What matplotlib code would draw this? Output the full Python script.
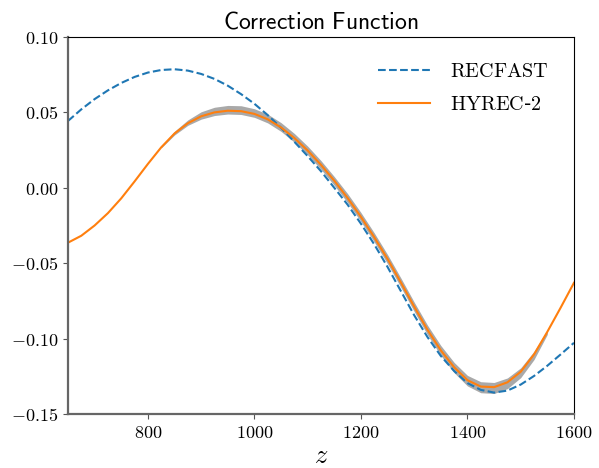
#!/usr/bin/env python

import numpy as np
import matplotlib
matplotlib.use('Agg')
import matplotlib.pyplot as plt
from matplotlib.ticker import FuncFormatter

plt.rcParams['mathtext.fontset'] = 'cm'

# redshift grid (step 25)
z = np.arange(650, 1601, 25)

# RECFAST correction function
recfast = [0.0443, 0.0520, 0.0588, 0.0646, 0.0695, 0.0735, 0.0764, 0.0781,
           0.0786, 0.0777, 0.0755, 0.0722, 0.0677, 0.0621, 0.0557, 0.0482,
           0.0398, 0.0305, 0.0210, 0.0110, 0.0000, -0.0112, -0.0238, -0.0375,
           -0.0525, -0.0685, -0.0845, -0.0990, -0.1115, -0.1215, -0.1295,
           -0.1340, -0.1358, -0.1345, -0.1305, -0.1248, -0.1180, -0.1105,
           -0.1028]

# HYREC-2 correction function
hyrec = [-0.0364, -0.0318, -0.0250, -0.0168, -0.0070, 0.0042, 0.0158, 0.0268,
         0.0360, 0.0428, 0.0474, 0.0500, 0.0511, 0.0508, 0.0490, 0.0454,
         0.0400, 0.0330, 0.0247, 0.0152, 0.0047, -0.0068, -0.0193, -0.0328,
         -0.0472, -0.0628, -0.0788, -0.0942, -0.1078, -0.1190, -0.1276,
         -0.1318, -0.1322, -0.1290, -0.1220, -0.1105, -0.0955, -0.0795,
         -0.0630]

# uncertainty band
z_band = np.arange(825, 1551, 25)
band_lo = [0.0264, 0.0350, 0.0414, 0.0455, 0.0479, 0.0489, 0.0486, 0.0467,
           0.0430, 0.0374, 0.0302, 0.0218, 0.0122, 0.0016, -0.0099, -0.0224,
           -0.0359, -0.0504, -0.0660, -0.0820, -0.0975, -0.1112, -0.1226,
           -0.1314, -0.1359, -0.1364, -0.1332, -0.1259, -0.1139, -0.0972]
band_hi = [0.0274, 0.0375, 0.0450, 0.0504, 0.0534, 0.0546, 0.0544, 0.0524,
           0.0488, 0.0432, 0.0360, 0.0276, 0.0180, 0.0074, -0.0039, -0.0164,
           -0.0299, -0.0443, -0.0598, -0.0758, -0.0911, -0.1046, -0.1158,
           -0.1244, -0.1286, -0.1291, -0.1261, -0.1194, -0.1084, -0.0943]

fig = plt.figure(figsize=(5.99, 4.68), dpi=100)
ax = fig.add_axes([0.1135, 0.1154, 0.8447, 0.8056])

ax.fill_between(z_band, band_lo, band_hi, color='#a9a9a9', lw=0)
ax.plot(z, recfast, '--', color='#1f77b4', lw=1.5, label=r'$\mathrm{RECFAST}$')
ax.plot(z, hyrec, '-', color='#ff7f0e', lw=1.5, label=r'$\mathrm{HYREC}$-$2$')

ax.set_xlim(650, 1600)
ax.set_ylim(-0.15, 0.10)
ax.set_xticks([800, 1000, 1200, 1400, 1600])
ax.set_yticks([-0.15, -0.10, -0.05, 0.00, 0.05, 0.10])
ax.xaxis.set_major_formatter(FuncFormatter(lambda v, p: r'$%d$' % v))
ax.yaxis.set_major_formatter(FuncFormatter(lambda v, p: r'$%.2f$' % v))
ax.tick_params(labelsize=13, color='#555555')

for side in ['left', 'bottom']:
    ax.spines[side].set_color('#666666')
    ax.spines[side].set_linewidth(1.6)

ax.set_xlabel(r'$z$', fontsize=19, labelpad=1)
ax.set_title(r'$\mathsf{Correction\ Function}$', fontsize=17)
ax.legend(loc='upper right', frameon=False, fontsize=14.5, handlelength=2.6,
          handletextpad=1.0, labelspacing=0.7, borderaxespad=0.85)

plt.savefig('out.png', dpi=100)
